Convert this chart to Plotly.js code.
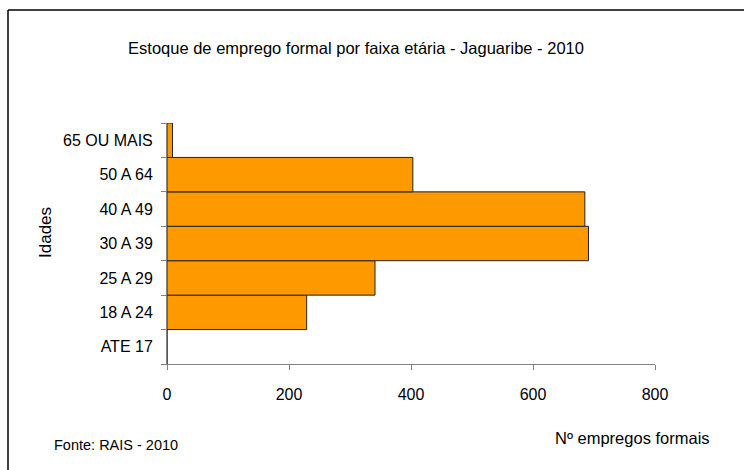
<!DOCTYPE html>
<html>
<head>
<meta charset="utf-8">
<script src="https://cdn.plot.ly/plotly-3.0.1.min.js"></script>
<style>html,body{margin:0;padding:0;background:#fff;}#chart{width:744px;height:470px;}</style>
</head>
<body>
<div id="chart"></div>
<script>
const categories = ["ATE 17", "18 A 24", "25 A 29", "30 A 39", "40 A 49", "50 A 64", "65 OU MAIS"];
const values = [0, 229, 341, 691, 685, 403, 9];
const xTicks = [0, 200, 400, 600, 800];

const chartTitle = "Estoque de emprego formal por faixa etária - Jaguaribe - 2010";
const xLabel = "Nº empregos formais";
const yLabel = "Idades";
const source = "Fonte: RAIS - 2010";

const FONT = "Liberation Sans, Arial, sans-serif";
const L = 167, R = 655, T = 123, B = 364, W = 744, H = 470;
const px = x => (x - L) / (R - L);
const py = y => (B - y) / (B - T);

const trace = {
  type: "bar",
  orientation: "h",
  y: categories,
  x: values,
  marker: {color: "#FF9900", line: {color: "#222222", width: 1}},
  hoverinfo: "x+y"
};

const layout = {
  width: W, height: H,
  margin: {l: L, r: W - R, t: T, b: H - B, pad: 0},
  paper_bgcolor: "#ffffff",
  plot_bgcolor: "#ffffff",
  showlegend: false,
  bargap: 0,
  font: {family: FONT, color: "#000", size: 16},
  title: {
    text: chartTitle,
    font: {family: FONT, size: 16.5, color: "#000"},
    x: 356 / W, xref: "container", xanchor: "center",
    y: 1 - 48 / H, yref: "container", yanchor: "middle"
  },
  xaxis: {
    range: [0, 800],
    tickvals: xTicks,
    ticktext: xTicks.map(String),
    showgrid: false,
    zeroline: false,
    showline: true,
    linecolor: "#808080",
    linewidth: 1,
    ticks: "outside",
    ticklen: 5,
    tickcolor: "#808080",
    tickfont: {family: FONT, size: 16, color: "#000"},
    ticklabelstandoff: 11,
    fixedrange: true
  },
  yaxis: {
    type: "category",
    categoryorder: "array",
    categoryarray: categories,
    showgrid: false,
    zeroline: false,
    showline: true,
    linecolor: "#808080",
    linewidth: 1,
    ticks: "outside",
    tickson: "boundaries",
    ticklen: 5,
    tickcolor: "#808080",
    tickfont: {family: FONT, size: 16, color: "#000"},
    ticklabelstandoff: 10,
    fixedrange: true
  },
  shapes: [
    {type: "line", xref: "paper", yref: "paper", x0: px(8), x1: px(8), y0: py(10), y1: py(480),
     line: {color: "#000", width: 1.5}},
    {type: "line", xref: "paper", yref: "paper", x0: px(8), x1: px(760), y0: py(10), y1: py(10),
     line: {color: "#000", width: 1.5}}
  ],
  annotations: [
    {text: yLabel, xref: "paper", yref: "paper", x: px(45), y: py(233), textangle: -90,
     showarrow: false, xanchor: "center", yanchor: "middle",
     font: {family: FONT, size: 17, color: "#000"}},
    {text: xLabel, xref: "paper", yref: "paper", x: px(632), y: py(438),
     showarrow: false, xanchor: "center", yanchor: "middle",
     font: {family: FONT, size: 16.5, color: "#000"}},
    {text: source, xref: "paper", yref: "paper", x: px(52), y: py(445),
     showarrow: false, xanchor: "left", yanchor: "middle",
     font: {family: FONT, size: 14.5, color: "#000"}}
  ]
};

Plotly.newPlot("chart", [trace], layout, {displayModeBar: false, staticPlot: true});
</script>
</body>
</html>
